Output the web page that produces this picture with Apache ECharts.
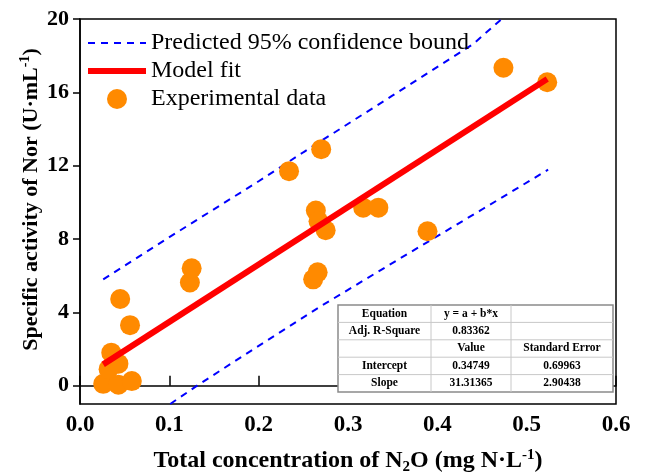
<!DOCTYPE html>
<html>
<head>
<meta charset="utf-8">
<script src="https://cdn.jsdelivr.net/npm/echarts@6/dist/echarts.min.js"></script>
<style>
  html, body { margin: 0; padding: 0; background: #fff; }
  #chart { width: 646px; height: 476px; }
</style>
</head>
<body>
<div id="chart"></div>
<script>
// Experimental data: total N2O concentration (mg N/L) vs Nor specific activity (U/mL)
const n2oConc = [0.026, 0.043, 0.058, 0.032, 0.043, 0.035, 0.056, 0.045, 0.123, 0.125,
                 0.234, 0.261, 0.266, 0.264, 0.267, 0.275, 0.270, 0.317, 0.334, 0.389,
                 0.474, 0.523];
const norActivity = [0.10, 0.05, 0.25, 0.90, 1.20, 1.80, 3.30, 4.73, 5.63, 6.40,
                     11.70, 5.80, 6.18, 9.55, 8.97, 8.48, 12.90, 9.71, 9.71, 8.42,
                     17.34, 16.55];

// Linear fit y = a + b*x
const intercept = 0.34749;
const slope = 31.31365;
const fitRange = [0.026, 0.523];

// Predicted 95% confidence bounds
const upperBoundX = [0.026, 0.10, 0.20, 0.25, 0.35, 0.44, 0.472];
const upperBoundY = [5.80, 8.10, 11.15, 12.73, 15.83, 18.63, 20.0];
const lowerBoundX = [0.101, 0.1325, 0.20, 0.2688, 0.3583, 0.45, 0.524];
const lowerBoundY = [-1.0, 0.05, 2.17, 4.31, 6.94, 9.61, 11.78];

// Axis ticks
const xTicks = [0.0, 0.1, 0.2, 0.3, 0.4, 0.5, 0.6];
const yTicks = [0, 4, 8, 12, 16, 20];

// Fit statistics table
const tableRows = [
  ['Equation', 'y = a + b*x', ''],
  ['Adj. R-Square', '0.83362', ''],
  ['', 'Value', 'Standard Error'],
  ['Intercept', '0.34749', '0.69963'],
  ['Slope', '31.31365', '2.90438']
];

const serif = '"Liberation Serif", "Times New Roman", serif';
const zip = (xs, ys) => xs.map((x, i) => [x, ys[i]]);
const fitData = fitRange.map(x => [x, intercept + slope * x]);

// Table graphics
const tbl = { top: 305, colX: [338, 431, 511, 613], rowH: 17.4 };
const tableGraphics = [];
const tblBottom = tbl.top + tbl.rowH * tableRows.length;
tableGraphics.push({
  type: 'rect', shape: { x: tbl.colX[0], y: tbl.top, width: tbl.colX[3] - tbl.colX[0], height: tblBottom - tbl.top },
  style: { fill: '#fff', stroke: '#8a8a8a', lineWidth: 1.5 }, z: 10
});
for (let r = 1; r < tableRows.length; r++) {
  const y = tbl.top + r * tbl.rowH;
  tableGraphics.push({ type: 'line', shape: { x1: tbl.colX[0], y1: y, x2: tbl.colX[3], y2: y },
    style: { stroke: '#c8c8c8', lineWidth: 1 }, z: 11 });
}
[1, 2].forEach(c => {
  tableGraphics.push({ type: 'line', shape: { x1: tbl.colX[c], y1: tbl.top, x2: tbl.colX[c], y2: tblBottom },
    style: { stroke: '#c8c8c8', lineWidth: 1 }, z: 11 });
});
tableRows.forEach((row, r) => {
  row.forEach((txt, c) => {
    if (!txt) return;
    tableGraphics.push({
      type: 'text', z: 12,
      x: (tbl.colX[c] + tbl.colX[c + 1]) / 2,
      y: tbl.top + (r + 0.5) * tbl.rowH,
      style: { text: txt, font: 'bold 11.5px ' + serif, fill: '#000', align: 'center', verticalAlign: 'middle' }
    });
  });
});

const hiddenSymbol = { color: 'rgba(0,0,0,0)', borderWidth: 0, opacity: 0 };

const chart = echarts.init(document.getElementById('chart'), null, { renderer: 'canvas' });
chart.setOption({
  animation: false,
  backgroundColor: '#fff',
  grid: {
    left: 80, right: 30, top: 19, bottom: 72, show: true, borderColor: '#000', borderWidth: 1.5,
    outerBoundsMode: 'none', containLabel: false
  },
  legend: {
    orient: 'vertical', left: 80, top: 26, itemWidth: 58, itemHeight: 20, itemGap: 4,
    textStyle: { fontFamily: serif, fontSize: 24, color: '#000' },
    data: [
      { name: 'Predicted 95% confidence bound', itemStyle: hiddenSymbol,
        lineStyle: { color: '#0000ff', width: 2, type: [7, 6] } },
      { name: 'Model fit', itemStyle: hiddenSymbol,
        lineStyle: { color: '#ff0000', width: 6 } },
      { name: 'Experimental data', icon: 'circle' }
    ]
  },
  xAxis: {
    type: 'value', min: 0, max: 0.6, interval: 0.1,
    name: '{t|Total concentration of N}{sub|2}{t|O (mg N·L}{sup|-1}{t|)}',
    nameLocation: 'middle', nameGap: 43, nameMoveOverlap: false,
    nameTextStyle: {
      rich: {
        t: { fontFamily: serif, fontWeight: 'bold', fontSize: 24, color: '#000' },
        sub: { fontFamily: serif, fontWeight: 'bold', fontSize: 15, color: '#000', padding: [13, 0, 0, 0] },
        sup: { fontFamily: serif, fontWeight: 'bold', fontSize: 15, color: '#000', padding: [0, 0, 12, 0] }
      }
    },
    axisLine: { lineStyle: { color: '#000', width: 1.5 } },
    axisTick: { inside: true, length: 10, lineStyle: { color: '#000', width: 1.5 } },
    axisLabel: {
      fontFamily: serif, fontWeight: 'bold', fontSize: 23, color: '#000', margin: 10,
      formatter: v => v.toFixed(1)
    },
    splitLine: { show: false }
  },
  yAxis: {
    type: 'value', min: -1, max: 20,
    name: '{t|Specific activity of Nor (U·mL}{sup|-1}{t|)}',
    nameLocation: 'middle', nameGap: 36, nameRotate: 90, nameMoveOverlap: false,
    nameTextStyle: {
      padding: [0, 0, 0, 24],
      rich: {
        t: { fontFamily: serif, fontWeight: 'bold', fontSize: 22, color: '#000' },
        sup: { fontFamily: serif, fontWeight: 'bold', fontSize: 14, color: '#000', padding: [0, 0, 12, 0] }
      }
    },
    axisLine: { lineStyle: { color: '#000', width: 1.5 } },
    axisTick: { inside: false, length: 7, customValues: yTicks, lineStyle: { color: '#000', width: 1.5 } },
    axisLabel: { fontFamily: serif, fontWeight: 'bold', fontSize: 22, color: '#000', margin: 11, customValues: yTicks },
    splitLine: { show: false }
  },
  series: [
    {
      name: 'Predicted 95% confidence bound', type: 'line', data: zip(upperBoundX, upperBoundY),
      showSymbol: false, symbol: 'none', z: 1,
      lineStyle: { color: '#0000ff', width: 2, type: [7, 6] }, itemStyle: { color: '#0000ff' }
    },
    {
      name: 'Predicted 95% confidence bound', type: 'line', data: zip(lowerBoundX, lowerBoundY),
      showSymbol: false, symbol: 'none', z: 1,
      lineStyle: { color: '#0000ff', width: 2, type: [7, 6] }, itemStyle: { color: '#0000ff' }
    },
    {
      name: 'Experimental data', type: 'scatter', data: zip(n2oConc, norActivity),
      symbol: 'circle', symbolSize: 20, z: 2,
      itemStyle: { color: '#ff8a00', opacity: 1 }
    },
    {
      name: 'Model fit', type: 'line', data: fitData,
      showSymbol: false, symbol: 'none', z: 3,
      lineStyle: { color: '#ff0000', width: 6 }, itemStyle: { color: '#ff0000' }
    }
  ],
  graphic: tableGraphics
});
</script>
</body>
</html>
